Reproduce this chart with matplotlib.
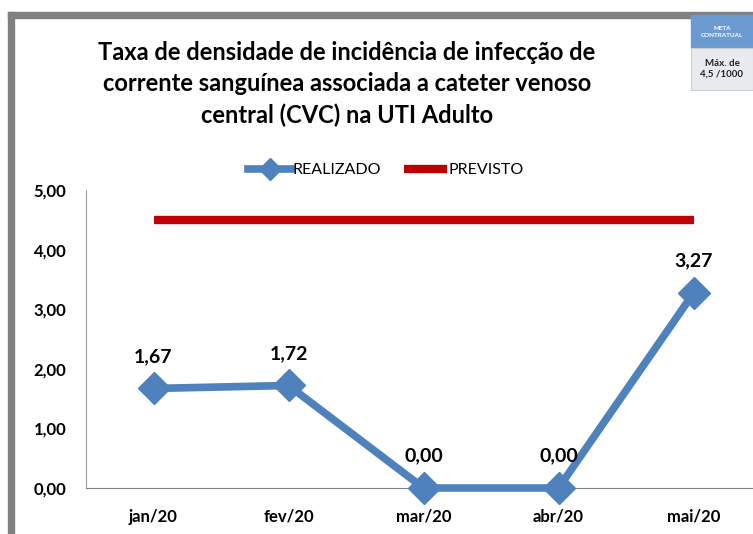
import matplotlib.pyplot as plt
from matplotlib.patches import Rectangle

meses = ['jan/20', 'fev/20', 'mar/20', 'abr/20', 'mai/20']
realizado = [1.67, 1.72, 0.00, 0.00, 3.27]
previsto = [4.5, 4.5, 4.5, 4.5, 4.5]
yticks = [0, 1, 2, 3, 4, 5]

plt.rcParams['font.family'] = ['Lato', 'DejaVu Sans']

fig = plt.figure(figsize=(7.53, 5.34), dpi=100)
W, H = 753, 534

# gray frame around the chart (left and top edges)
fig.patches.append(Rectangle((8 / W, 0), 6 / W, (534 - 12) / H, transform=fig.transFigure,
                             color='#808080', zorder=0))
fig.patches.append(Rectangle((8 / W, (534 - 18) / H), (753 - 8) / W, 6 / H, transform=fig.transFigure,
                             color='#808080', zorder=0))

ax = fig.add_axes([86 / W, 46 / H, 675 / W, 298 / H])
x = list(range(len(meses)))

ax.plot(x, previsto, color='#C00000', lw=6, solid_capstyle='butt', label='PREVISTO', zorder=2)
ax.plot(x, realizado, color='#4F81BD', lw=5.5, marker='D', markersize=16,
        label='REALIZADO', zorder=3, clip_on=False)

for xi, v in zip(x, realizado):
    ax.annotate(f'{v:.2f}'.replace('.', ','), (xi, v), xytext=(0, 17), textcoords='offset points',
                ha='center', va='bottom', fontsize=14, fontweight='bold')

ax.set_xlim(-0.5, 4.5)
ax.set_ylim(0, 5)
ax.set_yticks(yticks)
ax.set_yticklabels([f'{t:.2f}'.replace('.', ',') for t in yticks], fontsize=12, fontweight='bold')
ax.set_xticks(x)
ax.set_xticklabels(meses, fontsize=12, fontweight='bold')
ax.tick_params(axis='y', length=0, pad=14)
ax.tick_params(axis='x', length=0, pad=15)
for s in ['top', 'right']:
    ax.spines[s].set_visible(False)
ax.spines['left'].set_color('#A0A0A0')
ax.spines['bottom'].set_color('#808080')

h, l = ax.get_legend_handles_labels()
fig.legend(h[::-1], l[::-1], loc='center', bbox_to_anchor=(386 / W, (534 - 170) / H), ncol=2,
           frameon=False, fontsize=11.5, handlelength=2.7, handletextpad=0.1, columnspacing=1.4,
           markerscale=0.7)

fig.text(347 / W, (534 - 84) / H,
         'Taxa de densidade de incidência de infecção de\ncorrente sanguínea associada a cateter venoso\ncentral (CVC) na UTI Adulto',
         ha='center', va='center', fontsize=17, fontweight='bold', linespacing=1.45)

# meta box in the corner
fig.patches.append(Rectangle((691 / W, (534 - 48) / H), 62 / W, 33 / H, transform=fig.transFigure,
                             color='#6C9BD2', zorder=3))
fig.patches.append(Rectangle((691 / W, (534 - 90) / H), 62 / W, 42 / H, transform=fig.transFigure,
                             facecolor='#E8EAEE', edgecolor='#C8CCD4', lw=0.8, zorder=3))
fig.text(722 / W, (534 - 32) / H, 'META\nCONTRATUAL', ha='center', va='center', fontsize=4.5,
         color='white', fontweight='bold', linespacing=1.4, zorder=4)
fig.text(722 / W, (534 - 69) / H, 'Máx. de\n4,5 /1000', ha='center', va='center', fontsize=7,
         color='#222222', fontweight='bold', linespacing=1.3, zorder=4)

fig.savefig('out.png', dpi=100)
